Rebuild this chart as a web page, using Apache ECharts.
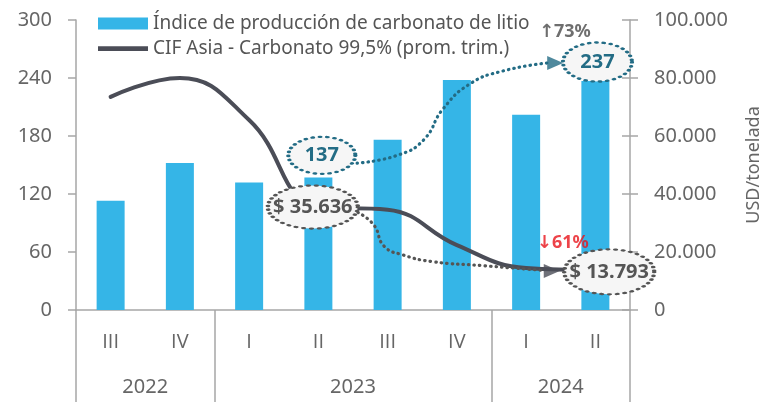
<!DOCTYPE html>
<html>
<head>
<meta charset="utf-8">
<script src="https://cdn.jsdelivr.net/npm/echarts@6/dist/echarts.min.js"></script>
<style>
html, body { margin: 0; padding: 0; background: #fff; }
#chart { width: 763px; height: 402px; }
</style>
</head>
<body>
<div id="chart"></div>
<script>
// trimestres y años
const quarters = ['III', 'IV', 'I', 'II', 'III', 'IV', 'I', 'II'];
const years = ['2022', '2023', '2024'];
const quartersPerYear = [2, 4, 2];
// índice de producción de carbonato de litio (eje izq.)
const productionIndex = [113, 152, 132, 137, 176, 238, 202, 237];
// CIF Asia - carbonato 99,5%, USD/tonelada (eje der.)
const cifAsia = [73500, 80000, 65500, 35636, 34600, 22400, 14500, 13793];
const leftTicks = [0, 60, 120, 180, 240, 300];
const rightTicks = [0, 20000, 40000, 60000, 80000, 100000];

const BLUE = '#35b5e7';
const DARK = '#4b4d57';
const TEAL = '#236c85';
const AXIS = '#a6a6a6';
const TXT = '#666';
const FONT = 'Noto Sans, DejaVu Sans, sans-serif';
const QFONT = 'Open Sans, DejaVu Sans, sans-serif';

function miles(v) {
  return String(v).replace(/\B(?=(\d{3})+(?!\d))/g, '.');
}

// límites y centros de cada año en unidades de trimestre
let acc = 0;
const yearBounds = [0];
const yearCenters = [];
quartersPerYear.forEach(n => {
  yearCenters.push(acc + n / 2);
  acc += n;
  yearBounds.push(acc);
});

// variaciones II-2023 -> II-2024
const idxFrom = 3, idxTo = 7;
const varIndex = Math.round((productionIndex[idxTo] / productionIndex[idxFrom] - 1) * 100);
const varPrice = Math.round((cifAsia[idxTo] / cifAsia[idxFrom] - 1) * 100);

// anotaciones (x en trimestres 0..8, y en escala izq.)
const callouts = [
  { text: String(productionIndex[idxFrom]), at: [3.55, 160], size: [67, 37], color: TEAL },
  { text: '$ ' + miles(cifAsia[idxFrom]), at: [3.42, 106.5], size: [90, 43], color: '#555' },
  { text: String(productionIndex[idxTo]), at: [7.53, 256.5], size: [69, 39], color: TEAL },
  { text: '$ ' + miles(cifAsia[idxTo]), at: [7.70, 39.5], size: [90, 45], color: '#555' }
];
const tealPath = [[4.06, 152], [4.64, 160], [5.02, 176], [5.30, 208], [5.69, 234], [6.15, 247], [6.80, 255.5]];
const grayPath = [[4.07, 101], [4.30, 88], [4.45, 66], [4.72, 57], [5.15, 50], [5.85, 46], [6.75, 41]];
const arrows = [
  { at: [6.92, 255.5], color: TEAL },
  { at: [6.87, 40.3], color: DARK }
];
const badges = [
  { text: '\u2191' + varIndex + '%', at: [7.06, 287.5], color: '#4a4a4a' },
  { text: '\u2193' + Math.abs(varPrice) + '%', at: [7.03, 69.5], color: '#e8141c' }
];

const chart = echarts.init(document.getElementById('chart'));

chart.setOption({
  animation: false,
  textStyle: { fontFamily: FONT },
  grid: { left: 76, right: 133, top: 20, bottom: 92, outerBoundsMode: 'none', containLabel: false },
  legend: {
    orient: 'vertical',
    left: 93,
    top: 9,
    itemWidth: 50,
    itemHeight: 12,
    itemGap: 6,
    data: [
      { name: 'Índice de producción de carbonato de litio', icon: 'rect' },
      { name: 'CIF Asia - Carbonato 99,5% (prom. trim.)', icon: 'path://M0,0 M0,12 M0,3.8 L50,3.8 L50,8.6 L0,8.6 Z' }
    ],
    textStyle: { fontSize: 19, color: '#555', fontFamily: FONT }
  },
  xAxis: [
    {
      type: 'category',
      data: quarters,
      position: 'bottom',
      axisLine: { lineStyle: { color: AXIS, width: 1.5 } },
      axisTick: { interval: 0, length: 45, lineStyle: { color: AXIS, width: 1.5 } },
      axisLabel: { interval: 0, fontSize: 20, color: TXT, margin: 22, fontFamily: QFONT }
    },
    {
      type: 'value',
      min: 0,
      max: quarters.length,
      position: 'bottom',
      axisLine: { show: false },
      splitLine: { show: false },
      axisTick: { show: true, customValues: yearBounds, length: 92, lineStyle: { color: AXIS, width: 1.5 } },
      axisLabel: {
        customValues: yearCenters,
        fontSize: 20,
        color: TXT,
        margin: 67,
        fontFamily: FONT,
        formatter: v => years[yearCenters.indexOf(v)]
      }
    }
  ],
  yAxis: [
    {
      type: 'value',
      min: leftTicks[0],
      max: leftTicks[leftTicks.length - 1],
      interval: leftTicks[1] - leftTicks[0],
      axisLine: { show: true, lineStyle: { color: AXIS, width: 1.5 } },
      axisTick: { show: true, length: 8, lineStyle: { color: AXIS, width: 1.5 } },
      splitLine: { show: false },
      axisLabel: { fontSize: 20, color: TXT, margin: 24, fontFamily: FONT }
    },
    {
      type: 'value',
      position: 'right',
      min: rightTicks[0],
      max: rightTicks[rightTicks.length - 1],
      interval: rightTicks[1] - rightTicks[0],
      name: 'USD/tonelada',
      nameLocation: 'middle',
      nameGap: 115,
      nameTextStyle: { fontSize: 18, color: TXT, fontFamily: FONT },
      axisLine: { show: true, lineStyle: { color: AXIS, width: 1.5 } },
      axisTick: { show: true, length: 8, lineStyle: { color: AXIS, width: 1.5 } },
      splitLine: { show: false },
      axisLabel: { fontSize: 20, color: TXT, margin: 24, fontFamily: FONT, formatter: v => miles(v) }
    },
    {
      // marcas hacia adentro del eje derecho
      type: 'value',
      position: 'right',
      min: rightTicks[0],
      max: rightTicks[rightTicks.length - 1],
      interval: rightTicks[1] - rightTicks[0],
      axisLine: { show: false },
      axisTick: { show: true, inside: true, length: 8, lineStyle: { color: AXIS, width: 1.5 } },
      axisLabel: { show: false },
      splitLine: { show: false }
    }
  ],
  series: [
    {
      name: 'Índice de producción de carbonato de litio',
      type: 'bar',
      xAxisIndex: 0,
      yAxisIndex: 0,
      barWidth: 28,
      itemStyle: { color: BLUE },
      data: productionIndex
    },
    {
      name: 'CIF Asia - Carbonato 99,5% (prom. trim.)',
      type: 'line',
      xAxisIndex: 0,
      yAxisIndex: 1,
      smooth: 0.45,
      symbol: 'none',
      z: 3,
      lineStyle: { color: DARK, width: 4, cap: 'round' },
      itemStyle: { color: DARK },
      data: cifAsia
    },
    {
      type: 'line',
      xAxisIndex: 1,
      yAxisIndex: 0,
      smooth: true,
      symbol: 'none',
      z: 4,
      silent: true,
      lineStyle: { color: TEAL, width: 3.2, type: [0.5, 5], cap: 'round' },
      data: tealPath
    },
    {
      type: 'line',
      xAxisIndex: 1,
      yAxisIndex: 0,
      smooth: true,
      symbol: 'none',
      z: 4,
      silent: true,
      lineStyle: { color: '#555', width: 3.2, type: [0.5, 5], cap: 'round' },
      data: grayPath
    },
    {
      type: 'scatter',
      xAxisIndex: 1,
      yAxisIndex: 0,
      z: 6,
      silent: true,
      symbol: 'triangle',
      symbolRotate: -90,
      symbolSize: [14, 16],
      data: arrows.map(a => ({ value: a.at, itemStyle: { color: a.color } }))
    },
    {
      type: 'scatter',
      xAxisIndex: 1,
      yAxisIndex: 0,
      z: 7,
      silent: true,
      symbol: 'circle',
      data: callouts.map(c => ({
        value: c.at,
        symbolSize: c.size,
        itemStyle: {
          color: '#f6f6f6',
          borderColor: c.color,
          borderWidth: 3.2,
          borderType: [0.5, 5],
          borderCap: 'round',
          opacity: 1
        },
        label: {
          show: true,
          position: 'inside',
          formatter: c.text,
          color: c.color,
          fontSize: 20,
          fontWeight: 'bold',
          fontFamily: FONT
        }
      }))
    },
    {
      type: 'scatter',
      xAxisIndex: 1,
      yAxisIndex: 0,
      z: 7,
      silent: true,
      symbolSize: 1,
      itemStyle: { color: 'transparent' },
      data: badges.map(b => ({
        value: b.at,
        label: {
          show: true,
          position: 'inside',
          formatter: b.text,
          color: b.color,
          fontSize: 18,
          fontWeight: 'bold',
          fontFamily: FONT
        }
      }))
    }
  ]
});
</script>
</body>
</html>
